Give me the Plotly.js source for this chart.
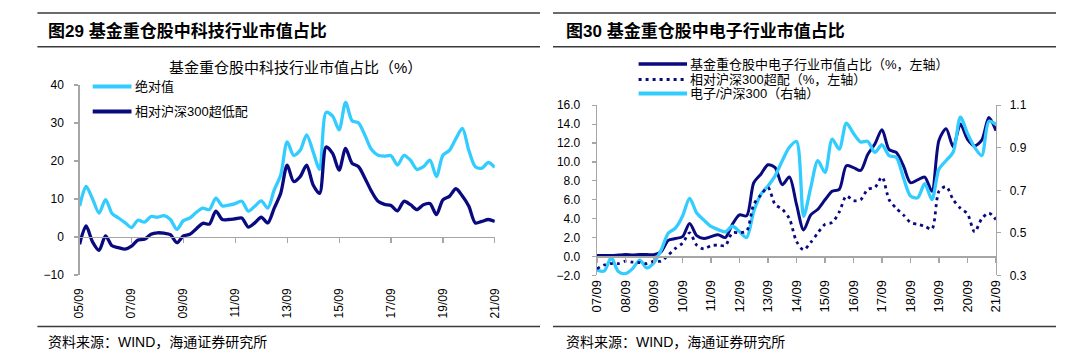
<!DOCTYPE html>
<html><head><meta charset="utf-8">
<script src="https://cdn.plot.ly/plotly-3.0.1.min.js"></script>
<style>html,body{margin:0;padding:0;background:#fff;}#chart{width:1080px;height:352px;}</style>
</head><body><div id="chart"></div>
<script>
// ---------- data ----------
// 图29: quarterly, 05/09 .. 21/09
const techAbs = [8.1,13.3,10.0,6.3,9.8,6.2,5.0,3.8,2.5,4.4,
  3.9,5.4,5.2,5.6,4.6,2.0,4.3,5.0,6.5,7.6,
  7.2,10.2,8.2,8.4,8.8,9.4,6.8,8.1,9.5,7.6,
  12.4,16.3,25.0,21.5,22.8,26.9,22.4,17.8,32.8,31.8,
  28.2,35.4,30.6,30.0,26.7,23.0,21.5,21.3,21.4,18.9,
  21.5,20.2,17.8,18.5,20.2,15.9,21.5,22.8,25.9,28.6,
  22.8,18.5,18.1,19.6,18.3];
const techRel = [-1.9,2.9,-1.3,-3.5,0.3,-2.3,-2.8,-3.2,-2.4,-0.8,
  -0.6,0.7,1.1,1.0,0.6,-1.5,0.3,0.7,2.2,3.6,
  3.4,6.8,4.6,4.6,4.8,5.0,2.6,3.7,5.2,3.7,
  7.6,11.5,18.9,14.6,15.9,18.9,13.7,11.5,23.7,22.0,
  17.6,23.3,19.4,18.5,15.4,12.0,9.4,8.6,8.3,6.9,
  9.4,8.5,7.2,8.5,8.8,5.9,9.8,10.7,12.7,10.8,
  8.1,3.7,4.1,4.6,4.1];
// 图30: quarterly, 07/09 .. 21/09
const elecShare = [0.1,0.1,0.1,0.15,0.2,0.15,0.2,0.2,0.2,0.5,
  1.7,1.9,2.1,3.5,2.2,1.9,2.1,2.3,2.0,3.4,
  4.4,4.3,7.8,8.7,9.7,9.4,7.6,8.4,5.5,2.8,
  4.4,5.0,6.0,6.9,7.1,9.6,9.4,9.1,10.8,11.9,
  13.4,11.3,11.0,9.6,7.8,8.1,8.4,6.9,12.3,13.5,
  11.6,14.0,12.4,11.7,12.3,14.7,13.3];
const elecOver = [-1.3,-0.9,-0.75,-0.75,-0.5,-0.6,-0.65,-0.75,-0.5,-0.5,
  0.15,0.85,1.4,2.5,1.2,0.8,1.15,1.2,1.15,2.5,
  2.5,2.7,5.5,6.5,7.3,5.5,5.0,4.0,1.6,0.7,
  1.5,2.5,3.4,3.6,4.7,6.4,5.9,6.0,7.1,7.3,
  8.4,6.0,5.1,4.4,3.6,3.4,3.2,2.9,6.9,7.4,
  6.0,5.1,4.5,2.6,4.0,4.6,3.9];
const elecRatio = [0.325,0.320,0.383,0.318,0.308,0.332,0.372,0.335,0.360,0.419,
  0.498,0.522,0.578,0.662,0.593,0.560,0.530,0.515,0.505,0.531,
  0.506,0.478,0.602,0.681,0.720,0.768,0.839,0.902,0.930,0.578,
  0.713,0.839,0.784,0.940,0.894,1.016,0.967,0.927,0.930,0.878,
  0.914,0.863,0.855,0.760,0.673,0.665,0.731,0.656,0.800,0.840,
  0.880,1.044,0.967,0.902,0.863,1.024,1.010];

const leftTitle = '基金重仓股中科技行业市值占比（%）';
const leftNames = ['绝对值', '相对沪深300超低配'];
const rightNames = ['基金重仓股中电子行业市值占比（%，左轴）', '相对沪深300超配（%，左轴）', '电子/沪深300（右轴）'];

// quarter labels YY/MM from YY/09 to YY/09
function quarterLabels(a, b) {
  const out = [];
  for (let y = a; y <= b; y++) for (const m of ['03','06','09','12']) {
    if (y === a && (m === '03' || m === '06')) continue;
    if (y === b && m === '12') continue;
    out.push(String(y).padStart(2,'0') + '/' + m);
  }
  return out;
}
const leftCats = quarterLabels(5, 21);
const rightCats = quarterLabels(7, 21);
const leftTicks = leftCats.filter((c,i) => i % 8 === 0);
const rightTicks = rightCats.filter((c,i) => i % 4 === 0);

// ---------- layout helpers ----------
const W = 1080, H = 352;
const px = x => x / W, py = y => 1 - y / H;
const CYAN = '#33ccff', NAVY = '#0a0a80', AX = '#a6a6a6', TXT = '#000';
const FONT = 'Liberation Sans, Arial, Noto Sans CJK SC, sans-serif';
const LX = [px(79.6), px(494.8)], LY = [py(275), py(85)], LYR = [-10, 40];
const RX = [px(597), px(996)], RY = [py(275.4), py(105.2)], RYR = [-2, 16], R3R = [0.3, 1.1];
const zeroPos = (dom, rng) => dom[0] + (0 - rng[0]) / (rng[1] - rng[0]) * (dom[1] - dom[0]);

const traces = [
  {x: leftCats, y: techAbs, xaxis: 'x', yaxis: 'y', type: 'scatter', mode: 'lines', name: leftNames[0],
   line: {color: CYAN, width: 3.3, shape: 'spline', smoothing: 0.8}, showlegend: false, hoverinfo: 'skip'},
  {x: leftCats, y: techRel, xaxis: 'x3', yaxis: 'y', type: 'scatter', mode: 'lines', name: leftNames[1],
   line: {color: NAVY, width: 3.3, shape: 'spline', smoothing: 0.8}, showlegend: false, hoverinfo: 'skip'},
  {x: rightCats, y: elecShare, xaxis: 'x2', yaxis: 'y2', type: 'scatter', mode: 'lines', name: rightNames[0],
   line: {color: NAVY, width: 3, shape: 'spline', smoothing: 0.8}, showlegend: false, hoverinfo: 'skip'},
  {x: rightCats, y: elecOver, xaxis: 'x4', yaxis: 'y2', type: 'scatter', mode: 'lines', name: rightNames[1],
   line: {color: NAVY, width: 2.8, dash: '3px,4px', shape: 'spline', smoothing: 0.8}, showlegend: false, hoverinfo: 'skip'},
  {x: rightCats, y: elecRatio, xaxis: 'x2', yaxis: 'y3', type: 'scatter', mode: 'lines', name: rightNames[2],
   line: {color: CYAN, width: 3.3, shape: 'spline', smoothing: 0.8}, showlegend: false, hoverinfo: 'skip'}
];

const tickFont = {family: FONT, size: 12, color: TXT};
const labelAxis = (dom, anchor, cats, ticks, size, stand) => ({
  domain: dom, anchor: anchor, type: 'category', range: [0, cats.length - 1],
  showline: false, ticks: '', tickvals: ticks, ticktext: ticks, tickangle: -90,
  tickfont: {family: FONT, size: size, color: TXT}, ticklabelstandoff: stand,
  showgrid: false, zeroline: false, fixedrange: true
});
const zeroAxis = (over, pos, cats, ticks) => ({
  overlaying: over, anchor: 'free', position: pos, type: 'category', range: [0, cats.length - 1],
  showline: true, linecolor: AX, linewidth: 1.3, ticks: 'outside', ticklen: 5, tickcolor: AX, tickwidth: 1.2,
  tickvals: ticks, showticklabels: false, showgrid: false, zeroline: false, fixedrange: true
});
const valAxis = (dom, anchor, rng, dtick, tick0, fmt, side, stand) => ({
  domain: dom, anchor: anchor, range: rng, dtick: dtick, tick0: tick0, tickformat: fmt, side: side,
  showline: true, linecolor: AX, linewidth: 1.3, ticks: 'outside', ticklen: 4, tickcolor: AX, tickwidth: 1.2,
  tickfont: tickFont, ticklabelstandoff: stand, showgrid: false, zeroline: false, fixedrange: true
});

const line = (x0, y0, x1, y1, color, width, dash) => ({type: 'line', xref: 'paper', yref: 'paper',
  x0: px(x0), y0: py(y0), x1: px(x1), y1: py(y1), line: {color: color, width: width, dash: dash || 'solid'}});
const RULE = '#3a3a3a';
const shapes = [
  line(37.4, 13, 540, 13, RULE, 1.5), line(37.4, 46.7, 540, 46.7, RULE, 1.5), line(37.4, 326.6, 540, 326.6, RULE, 1.5),
  line(553, 13, 1056, 13, RULE, 1.5), line(553, 46.7, 1056, 46.7, RULE, 1.5), line(553, 326.6, 1056, 326.6, RULE, 1.5),
  // legend keys
  line(92.7, 86.5, 131.5, 86.5, CYAN, 4), line(92.7, 111.4, 131.5, 111.4, NAVY, 4),
  line(638.6, 64, 687, 64, NAVY, 3.5), line(638.6, 79.6, 687, 79.6, NAVY, 3, '3px,4px'), line(638.6, 93.4, 687, 93.4, CYAN, 4)
];

const ann = (x, y, text, size, anchor, extra) => Object.assign({xref: 'paper', yref: 'paper', x: px(x), y: py(y),
  text: text, showarrow: false, xanchor: anchor || 'left', yanchor: 'middle',
  font: {family: FONT, size: size, color: TXT}, borderpad: 0}, extra || {});
const annotations = [
  ann(47, 30.5, '<b>图29 基金重仓股中科技行业市值占比</b>', 17),
  ann(565, 30.5, '<b>图30 基金重仓股中电子行业市值占比</b>', 17),
  ann(295.5, 67.5, leftTitle, 15, 'center'),
  ann(134, 86.5, leftNames[0], 13), ann(134, 111.4, leftNames[1], 13),
  ann(689, 64, rightNames[0], 13), ann(689, 79.6, rightNames[1], 13), ann(689, 93.4, rightNames[2], 13),
  ann(47, 341.5, '资料来源：WIND，海通证券研究所', 14),
  ann(565, 341.5, '资料来源：WIND，海通证券研究所', 14)
];

const layout = {
  width: W, height: H, margin: {l: 0, r: 0, t: 0, b: 0}, paper_bgcolor: '#fff', plot_bgcolor: 'rgba(0,0,0,0)',
  showlegend: false, font: {family: FONT, color: TXT},
  xaxis: labelAxis(LX, 'y', leftCats, leftTicks, 12, 10),
  xaxis3: zeroAxis('x', zeroPos(LY, LYR), leftCats, leftTicks),
  yaxis: valAxis(LY, 'x', LYR, 10, 0, '', 'left', 8),
  xaxis2: labelAxis(RX, 'y2', rightCats, rightTicks, 13, 1),
  xaxis4: zeroAxis('x2', zeroPos(RY, RYR), rightCats, rightTicks),
  yaxis2: valAxis(RY, 'x2', RYR, 2, 0, '.1f', 'left', 9),
  yaxis3: Object.assign(valAxis(RY, 'x2', R3R, 0.2, 0.3, '.1f', 'right', 6), {overlaying: 'y2'}),
  shapes: shapes, annotations: annotations
};

Plotly.newPlot('chart', traces, layout, {displayModeBar: false, staticPlot: true});
</script></body></html>
